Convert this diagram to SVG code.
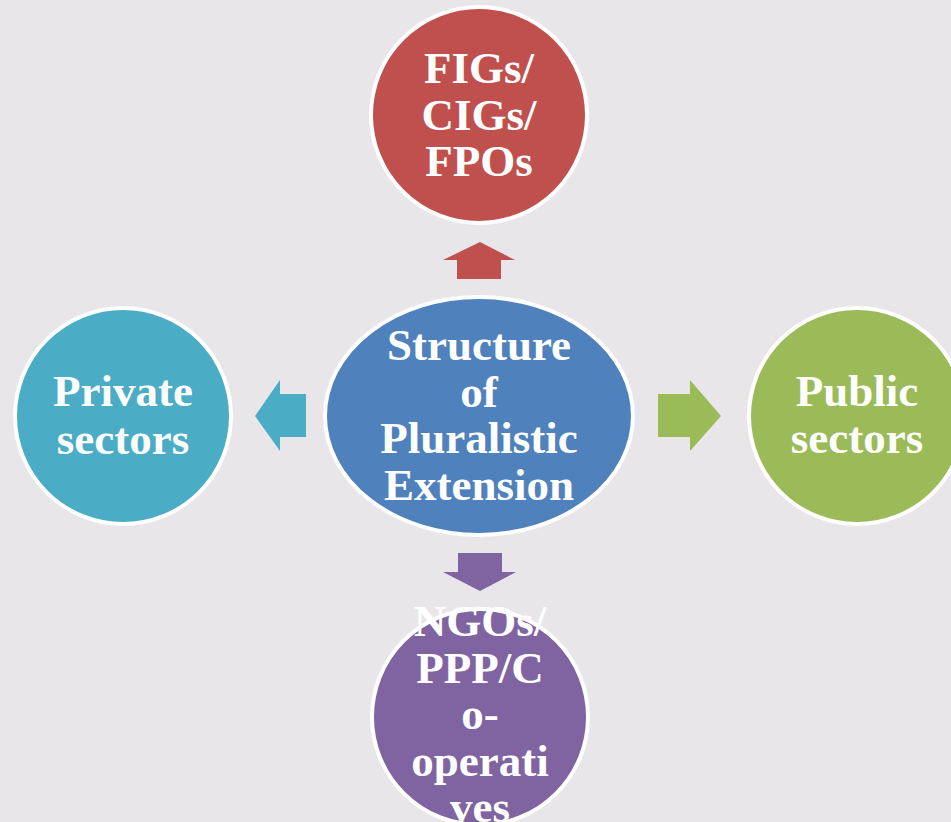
<svg xmlns="http://www.w3.org/2000/svg" width="951" height="822" viewBox="0 0 951 822">
<style>
.node{stroke:#ffffff;stroke-width:4}
.lbl{font-family:"Liberation Serif","Times New Roman",serif;font-weight:bold;font-size:45px;fill:#ffffff;text-anchor:middle}
</style>
<rect x="0" y="0" width="951" height="822" fill="#e8e6e9"/>
<g id="connectors">
<polygon id="arrow-up" points="480,242 515,260 501,260 501,279 457,279 457,260 443,260" fill="#c0504d"/>
<polygon id="arrow-left" points="255,416 280,380 280,394 306,394 306,437 280,437 280,451" fill="#4bacc6"/>
<polygon id="arrow-right" points="721,416 690,380 690,394 658,394 658,437 690,437 690,451" fill="#9bbb59"/>
<polygon id="arrow-down" points="480,591 516,572 502,572 502,553 458,553 458,572 443,572" fill="#8064a2"/>
</g>
<g id="node-top">
<circle class="node" cx="479" cy="115" r="108" fill="#c0504d"/>
<text class="lbl" x="479" y="83">FIGs/</text>
<text class="lbl" x="479" y="130">CIGs/</text>
<text class="lbl" x="479" y="176">FPOs</text>
</g>
<g id="node-left">
<circle class="node" cx="123" cy="416" r="108" fill="#4bacc6"/>
<text class="lbl" x="123" y="406">Private</text>
<text class="lbl" x="123" y="454">sectors</text>
</g>
<g id="node-right">
<circle class="node" cx="857" cy="416" r="108" fill="#9bbb59"/>
<text class="lbl" x="857" y="406">Public</text>
<text class="lbl" x="857" y="453">sectors</text>
</g>
<g id="node-bottom">
<circle class="node" cx="480" cy="717" r="108" fill="#8064a2"/>
<text class="lbl" x="480" y="636">NGOs/</text>
<text class="lbl" x="480" y="683">PPP/C</text>
<text class="lbl" x="480" y="729">o-</text>
<text class="lbl" x="480" y="776">operati</text>
<text class="lbl" x="480" y="822">ves</text>
</g>
<g id="node-center">
<ellipse class="node" cx="479" cy="416" rx="154" ry="119" fill="#4f81bd"/>
<text class="lbl" x="479" y="360">Structure</text>
<text class="lbl" x="479" y="407">of</text>
<text class="lbl" x="479" y="453">Pluralistic</text>
<text class="lbl" x="479" y="500">Extension</text>
</g>
</svg>
